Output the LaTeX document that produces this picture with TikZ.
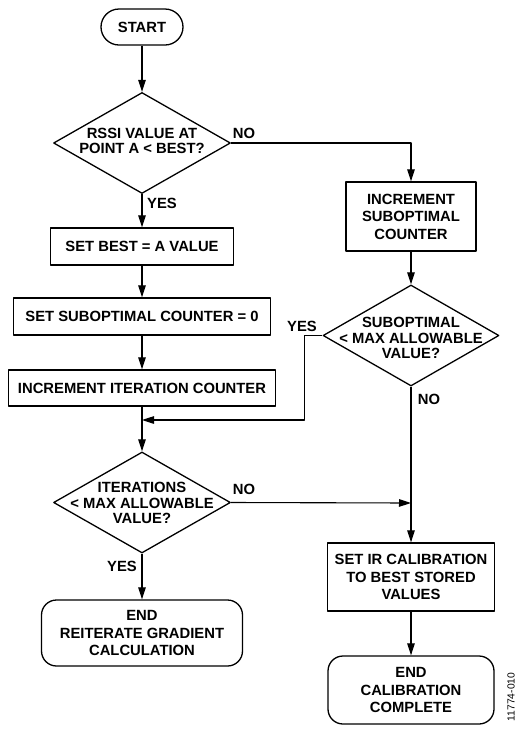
\documentclass[tikz,border=0pt]{standalone}
\usepackage{fontspec}
\setmainfont{Liberation Sans}
\usetikzlibrary{shapes.geometric,arrows.meta}
\begin{document}
\begin{tikzpicture}[x=1pt, y=-1pt, line join=round, >={Triangle[length=12pt,width=7.5pt]},
		font=\fontsize{14.8}{17.5}\selectfont\bfseries,
		every node/.style={inner sep=0pt},
		box/.style={draw, line width=1.3pt, align=center},
		term/.style={draw, line width=1.3pt, rounded corners=15pt, align=center},
		decision/.style={draw, diamond, line width=1.3pt, minimum width=177pt, minimum height=101pt},
		qtext/.style={align=center, font=\fontsize{14.8}{15.2}\selectfont\bfseries},
		flow/.style={line width=1.1pt}]
	\useasboundingbox (0,0) rectangle (525,729);
	% left column
	\node[term, minimum width=82pt, minimum height=36pt, rounded corners=18pt] (start) at (142,27) {START};
	\node[decision] (rssi) at (142,143) {};
	\node[qtext] (rssitxt) at (142,141) {RSSI VALUE AT\\POINT A < BEST?};
	\node[box, minimum width=183pt, minimum height=37pt] (best) at (142,246.5) {SET BEST = A VALUE};
	\node[box, minimum width=257pt, minimum height=37pt] (subzero) at (142,316.5) {SET SUBOPTIMAL COUNTER = 0};
	\node[box, minimum width=267pt, minimum height=36pt] (iterinc) at (142,388) {INCREMENT ITERATION COUNTER};
	\node[decision] (iterq) at (142,502.5) {};
	\node[qtext] (iterqtxt) at (142,503) {ITERATIONS\\< MAX ALLOWABLE\\VALUE?};
	\node[term, minimum width=201pt, minimum height=66pt] (endre) at (142,633) {END\\REITERATE GRADIENT\\CALCULATION};
	% right column
	\node[box, minimum width=130pt, minimum height=69pt] (subinc) at (411,216.5) {INCREMENT\\SUBOPTIMAL\\COUNTER};
	\node[decision, minimum width=176pt] (subq) at (411,335.5) {};
	\node[qtext] (subqtxt) at (411,338) {SUBOPTIMAL\\< MAX ALLOWABLE\\VALUE?};
	\node[box, minimum width=167pt, minimum height=68pt] (setir) at (411,577) {SET IR CALIBRATION\\TO BEST STORED\\VALUES};
	\node[term, minimum width=166pt, minimum height=68pt] (endcal) at (411,690) {END\\CALIBRATION\\COMPLETE};
	% branch labels
	\node (no1) at (244,133) {NO};
	\node (yes1) at (162,203) {YES};
	\node (yes2) at (302,326) {YES};
	\node (no2) at (429,399) {NO};
	\node (no3) at (244,489) {NO};
	\node (yes3) at (122,566) {YES};
	\node[rotate=90, font=\fontsize{10.3}{10}\selectfont] (figno) at (511,697) {11774-010};
	% connectors
	\coordinate (join) at (142,420);
	\coordinate (meet) at (411,503);
	\draw[flow,->] (start) -- (rssi);
	\draw[flow,->] (rssi) -- (best);
	\draw[flow,->] (rssi.east) -| (subinc.north);
	\draw[flow,->] (best) -- (subzero);
	\draw[flow,->] (subzero) -- (iterinc);
	\draw[flow,->] (iterinc) -- (iterq);
	\draw[flow,->] (subinc) -- (subq);
	\draw[flow,->] (subq.west) -- ++(-18,0) |- (join);
	\draw[flow,->] (subq) -- (setir);
	\draw[flow,->] (iterq.east) -- (meet);
	\draw[flow,->] (iterq) -- (endre);
	\draw[flow,->] (setir) -- (endcal);
\end{tikzpicture}
\end{document}
